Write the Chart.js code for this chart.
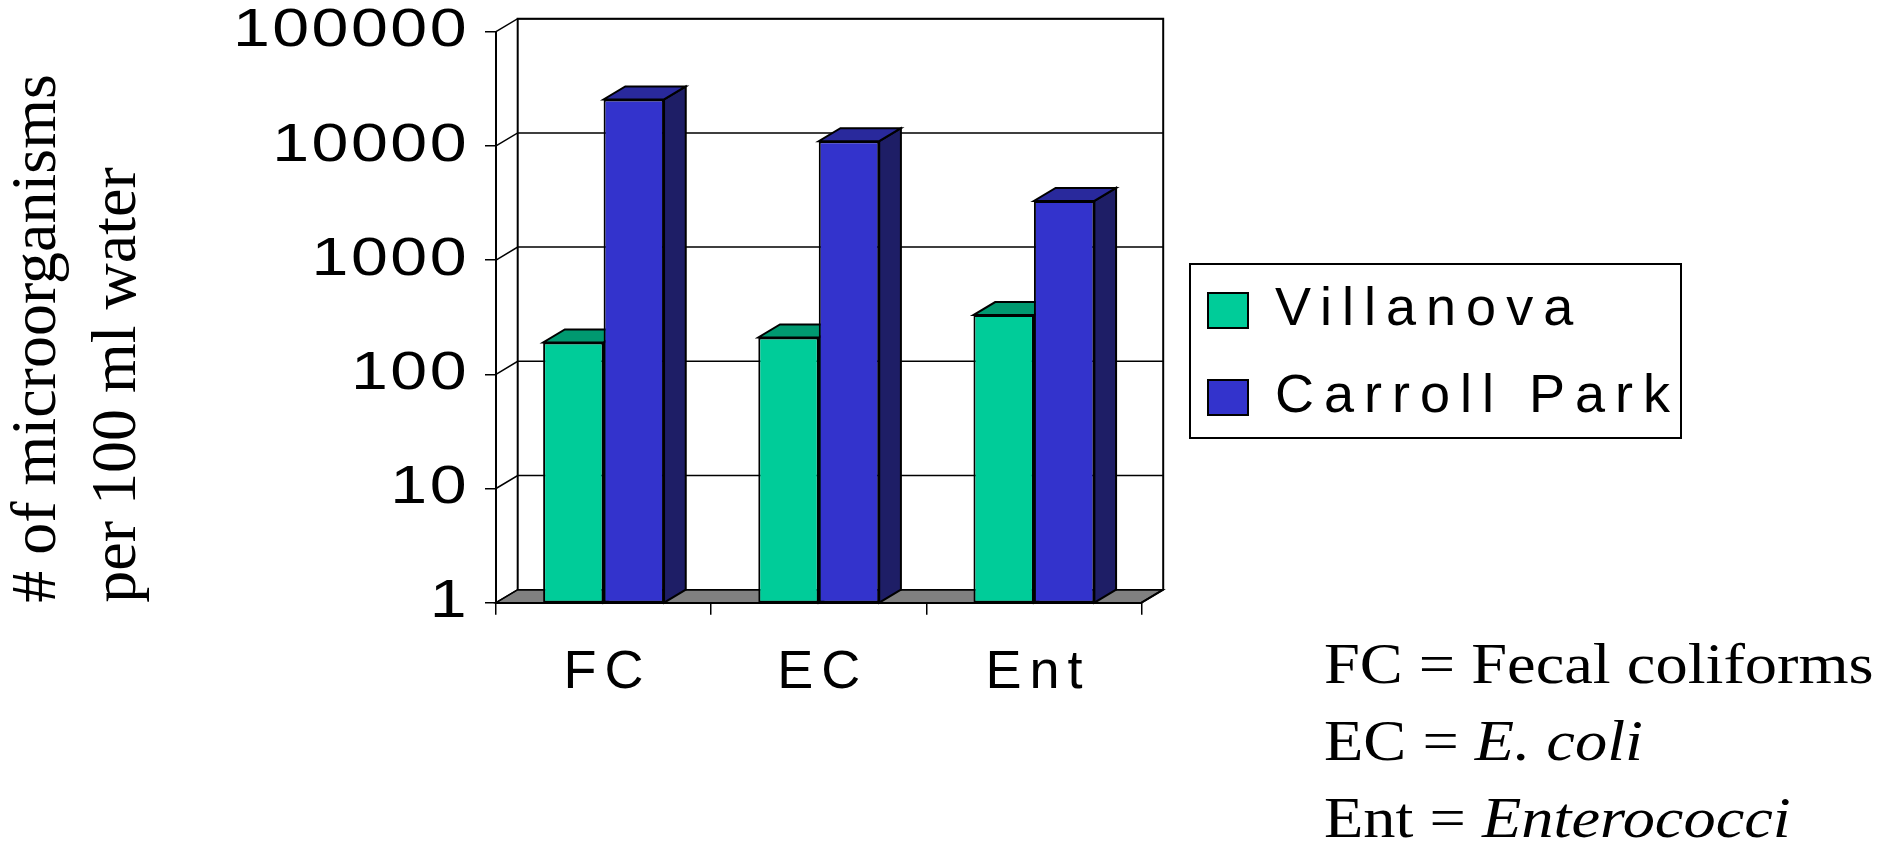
<!DOCTYPE html>
<html>
<head>
<meta charset="utf-8">
<script src="https://cdn.jsdelivr.net/npm/chart.js@4"></script>
<style>
  body { margin: 0; background: #fff; }
  #wrap { position: relative; width: 1896px; height: 843px; }
  #note {
    position: absolute; left: 1324px; top: 626px;
    font: 56px 'Liberation Serif', 'Times New Roman', serif; line-height: 77px;
    white-space: nowrap; color: #000;
    transform: scaleX(1.15); transform-origin: 0 0;
  }
</style>
</head>
<body>
<div id="wrap">
  <canvas id="chart"></canvas>
  <div id="note">FC = Fecal coliforms<br>EC = <i>E. coli</i><br>Ent = <i>Enterococci</i></div>
</div>
<script>
// data
const categories = ['FC', 'EC', 'Ent'];
const villanova = [190, 210, 330];
const carrollPark = [25500, 11000, 3300];
const seriesNames = ['Villanova', 'Carroll Park'];
const yTickValues = [1, 10, 100, 1000, 10000, 100000];
const yTickLabels = ['1', '10', '100', '1000', '10000', '100000'];
const yTitle = ['# of microorganisms', 'per 100 ml water'];

// colours: front, top, side
const faceColors = [
  { front: '#00CC99', top: '#009970', side: '#006648' },
  { front: '#3333CC', top: '#29299C', side: '#1E1E66' }
];

const DX = 21.7, DY = 13;   // 3d depth offset
const LABEL_GAP = 16;       // gap between y labels and tick marks

// log axis with horizontally stretched labels
class StretchLog extends Chart.LogarithmicScale {
  static id = 'stretchLog';
  drawTitle() {
    const ctx = this.ctx;
    ctx.save();
    ctx.letterSpacing = '0px';
    super.drawTitle();
    ctx.restore();
  }
  drawLabels(area) {
    const ctx = this.ctx;
    const ax = this.right - this.options.grid.tickLength - this.options.ticks.padding;
    ctx.save();
    ctx.letterSpacing = '2px';
    ctx.translate(-LABEL_GAP, 0);
    ctx.translate(ax, 0);
    ctx.scale(1.25, 1);
    ctx.translate(-ax, 0);
    super.drawLabels(area);
    ctx.restore();
  }
}

class SpacedCategory extends Chart.CategoryScale {
  static id = 'spacedCategory';
  drawLabels(area) {
    const ctx = this.ctx;
    ctx.save();
    ctx.letterSpacing = '8px';
    ctx.translate(4, 0);
    super.drawLabels(area);
    ctx.restore();
  }
}
Chart.register(StretchLog, SpacedCategory);

function poly(ctx, pts, fill) {
  ctx.beginPath();
  ctx.moveTo(pts[0][0], pts[0][1]);
  for (let i = 1; i < pts.length; i++) ctx.lineTo(pts[i][0], pts[i][1]);
  ctx.closePath();
  if (fill) { ctx.fillStyle = fill; ctx.fill(); }
  ctx.stroke();
}

const box3d = {
  id: 'box3d',
  beforeDraw(chart) {
    chart.ctx.letterSpacing = '10px';   // legend text
  },
  afterLayout(chart) {
    // put the legend where the original has it, with room for spaced text
    const lg = chart.legend;
    lg.left = 1175; lg.right = 1890;
    lg.top = 250.5; lg.bottom = 520;
    lg.width = lg.right - lg.left;
    lg.height = lg.bottom - lg.top;
  },
  beforeDatasetsDraw(chart) {
    const ctx = chart.ctx;
    const { left, right, top, bottom } = chart.chartArea;
    const ys = chart.scales.y;
    ctx.save();
    ctx.letterSpacing = '0px';
    ctx.strokeStyle = '#000';
    // floor
    ctx.lineWidth = 1.5;
    poly(ctx, [[left, bottom], [right, bottom], [right + DX, bottom - DY], [left + DX, bottom - DY]], '#808080');
    // back wall grid
    ys.ticks.forEach(t => {
      const py = ys.getPixelForValue(t.value);
      ctx.beginPath();
      ctx.moveTo(left, py);
      ctx.lineTo(left + DX, py - DY);
      ctx.lineTo(right + DX, py - DY);
      ctx.stroke();
    });
    ctx.lineWidth = 2;
    ctx.beginPath();
    ctx.moveTo(left + DX, bottom - DY);
    ctx.lineTo(left + DX, top - DY);
    ctx.lineTo(right + DX, top - DY);
    ctx.lineTo(right + DX, bottom - DY);
    ctx.lineTo(right, bottom);
    ctx.stroke();
    // bar tops and sides
    chart.data.datasets.forEach((ds, di) => {
      const meta = chart.getDatasetMeta(di);
      meta.data.forEach(bar => {
        const { x, y, base, width } = bar.getProps(['x', 'y', 'base', 'width'], true);
        const l = x - width / 2, r = x + width / 2;
        poly(ctx, [[r, y], [r + DX, y - DY], [r + DX, base - DY], [r, base]], faceColors[di].side);
        poly(ctx, [[l, y], [r, y], [r + DX, y - DY], [l + DX, y - DY]], faceColors[di].top);
      });
    });
    ctx.restore();
  },
  afterDraw(chart) {
    const ctx = chart.ctx;
    const lg = chart.legend;
    ctx.save();
    ctx.strokeStyle = '#000';
    ctx.lineWidth = 2;
    ctx.strokeRect(lg.left + 15, lg.top + 13.5, 491, 174);
    ctx.restore();
  }
};

new Chart(document.getElementById('chart'), {
  type: 'bar',
  data: {
    labels: categories,
    datasets: [
      { label: seriesNames[0], data: villanova, backgroundColor: faceColors[0].front,
        borderColor: '#000', borderWidth: 2, borderSkipped: false },
      { label: seriesNames[1], data: carrollPark, backgroundColor: faceColors[1].front,
        borderColor: '#000', borderWidth: 2, borderSkipped: false }
    ]
  },
  options: {
    responsive: true,
    maintainAspectRatio: false,
    animation: false,
    layout: { padding: { left: 0, top: 31.7, right: 754.5, bottom: 0 } },
    datasets: { bar: { categoryPercentage: 0.562, barPercentage: 1 } },
    plugins: {
      tooltip: { enabled: false },
      legend: {
        position: 'chartArea',
        align: 'start',
        labels: {
          boxWidth: 40, boxHeight: 35, padding: 33, color: '#000',
          font: { family: "'Liberation Sans', Arial, sans-serif", size: 54 }
        }
      }
    },
    scales: {
      x: {
        type: 'spacedCategory',
        offset: true,
        grid: { offset: true, drawOnChartArea: false, drawTicks: true, tickLength: 12, color: '#000', lineWidth: 1.5 },
        border: { display: true, color: '#000', width: 2 },
        ticks: { color: '#000', padding: 26, font: { family: "'Liberation Sans', Arial, sans-serif", size: 54 } },
        afterFit: (s) => { s.height = 843 - 602.7; }
      },
      y: {
        type: 'stretchLog',
        min: 1,
        max: 100000,
        afterBuildTicks: (s) => { s.ticks = yTickValues.map(v => ({ value: v })); },
        afterFit: (s) => { s.width = 496; },
        grid: { drawOnChartArea: false, drawTicks: true, tickLength: 11, color: '#000', lineWidth: 1.5 },
        border: { display: true, color: '#000', width: 2 },
        ticks: {
          color: '#000', padding: 0,
          font: { family: "'Liberation Sans', Arial, sans-serif", size: 53, lineHeight: 1.1 },
          callback: (v, i) => yTickLabels[i]
        },
        title: {
          display: true, text: yTitle, color: '#000', align: 'start',
          font: { family: "'Liberation Serif', 'Times New Roman', serif", size: 64, lineHeight: 1.25 },
          padding: { top: -2, bottom: 0 }
        }
      }
    }
  },
  plugins: [box3d]
});
</script>
</body>
</html>
